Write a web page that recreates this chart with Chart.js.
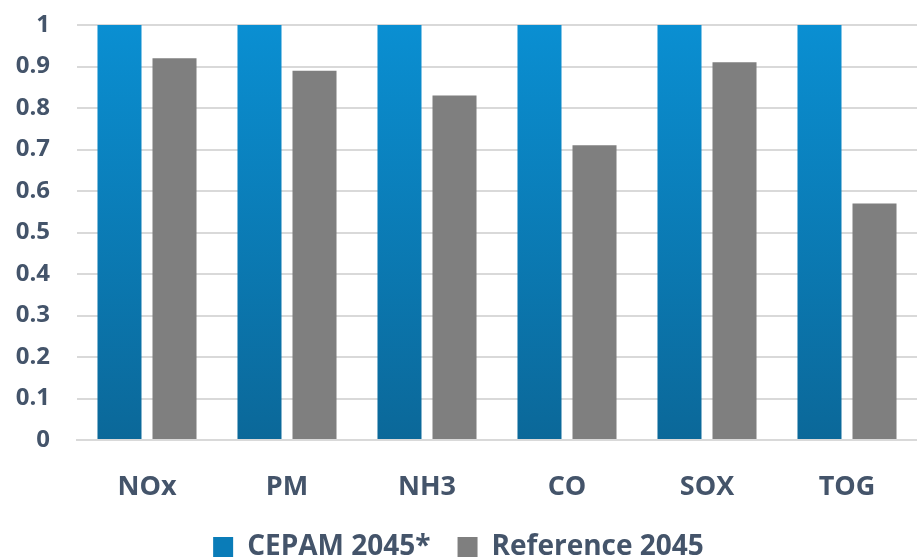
<!DOCTYPE html>
<html>
<head>
<meta charset="utf-8">
<script src="https://cdn.jsdelivr.net/npm/chart.js@4"></script>
<style>
  html, body { margin: 0; padding: 0; background: #fff; }
  .chart-container { width: 917px; height: 560px; position: relative; }
</style>
</head>
<body>
<div class="chart-container">
  <canvas id="emissionsChart"></canvas>
</div>
<script>
  const categories = ["NOx", "PM", "NH3", "CO", "SOX", "TOG"];
  const cepam2045 = [1, 1, 1, 1, 1, 1];
  const reference2045 = [0.92, 0.89, 0.83, 0.71, 0.91, 0.57];
  const yTicks = [0, 0.1, 0.2, 0.3, 0.4, 0.5, 0.6, 0.7, 0.8, 0.9, 1];

  const textColor = "#44546A";
  const fontFamily = "'Open Sans', sans-serif";

  function blueGradient(context) {
    const chart = context.chart;
    const area = chart.chartArea;
    if (!area) return "#0A8BCB";
    const g = chart.ctx.createLinearGradient(0, area.top, 0, area.bottom);
    g.addColorStop(0, "#0A8FD2");
    g.addColorStop(1, "#0B6899");
    return g;
  }

  const ctx = document.getElementById("emissionsChart").getContext("2d");
  const myChart = new Chart(ctx, {
    type: "bar",
    data: {
      labels: categories,
      datasets: [
        {
          label: "CEPAM 2045*",
          data: cepam2045,
          backgroundColor: blueGradient,
          borderWidth: 0,
          barPercentage: 0.8,
          categoryPercentage: 0.786,
        },
        {
          label: "Reference 2045",
          data: reference2045,
          backgroundColor: "#7F7F7F",
          borderWidth: 0,
          barPercentage: 0.8,
          categoryPercentage: 0.786,
        },
      ],
    },
    options: {
      responsive: true,
      maintainAspectRatio: false,
      animation: false,
      layout: { padding: { top: 25, right: 0, left: 0, bottom: 0 } },
      plugins: {
        tooltip: { enabled: false },
        legend: {
          position: "bottom",
          maxHeight: 54,
          labels: {
            color: textColor,
            font: { family: fontFamily, size: 28, weight: "bold" },
            boxWidth: 20,
            boxHeight: 20,
            padding: 27,
            generateLabels: (chart) => [
              { text: "CEPAM 2045*", fillStyle: "#0A7CB8", strokeStyle: "#0A7CB8", lineWidth: 0, datasetIndex: 0, fontColor: textColor },
              { text: "Reference 2045", fillStyle: "#7F7F7F", strokeStyle: "#7F7F7F", lineWidth: 0, datasetIndex: 1, fontColor: textColor },
            ],
          },
        },
      },
      scales: {
        x: {
          afterFit: (scale) => {
            scale.height = 66;
          },
          grid: { display: false },
          border: { display: true, color: "#D9D9D9", width: 2 },
          ticks: {
            color: textColor,
            font: { family: fontFamily, size: 27, weight: "bold" },
            padding: 23,
          },
        },
        y: {
          min: 0,
          max: 1,
          afterBuildTicks: (scale) => {
            scale.ticks = yTicks.map((v) => ({ value: v }));
          },
          afterFit: (scale) => {
            scale.width = 77;
            scale.paddingTop = 0;
            scale.paddingBottom = 0;
          },
          grid: { color: "#D9D9D9", lineWidth: 2, drawTicks: false },
          border: { display: false },
          ticks: {
            color: textColor,
            font: { family: fontFamily, size: 24, weight: "bold" },
            padding: 27,
            callback: (v) => String(+Number(v).toFixed(1)),
          },
        },
      },
    },
  });
</script>
</body>
</html>
